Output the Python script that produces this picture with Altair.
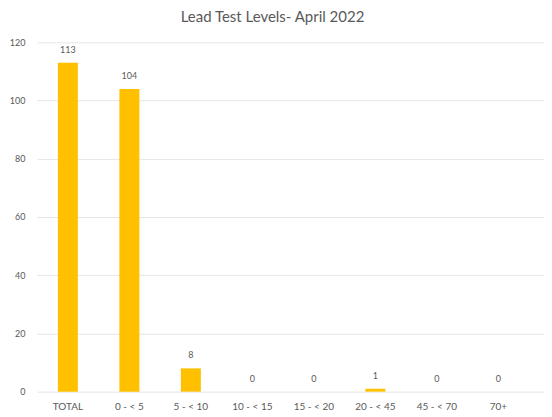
import altair as alt
import pandas as pd

categories = ["TOTAL", "0 - < 5", "5 - < 10", "10 - < 15", "15 - < 20", "20 - < 45", "45 - < 70", "70+"]
counts = [113, 104, 8, 0, 0, 1, 0, 0]
y_ticks = [0, 20, 40, 60, 80, 100, 120]

df = pd.DataFrame({"level": categories, "count": counts})

FONT = "Lato"
GRAY = "#595959"

x = alt.X(
    "level:N",
    sort=categories,
    title=None,
    scale=alt.Scale(paddingInner=0.675, paddingOuter=0.46, align=0.37),
    axis=alt.Axis(labelAngle=0, ticks=False, domain=False, labelPadding=10,
                  labelFontSize=10, labelColor=GRAY, labelFont=FONT),
)
y = alt.Y(
    "count:Q",
    title=None,
    scale=alt.Scale(domain=[0, 120], nice=False),
    axis=alt.Axis(values=y_ticks, ticks=False, domain=False, tickSize=0, labelPadding=12,
                  labelFontSize=9, labelColor=GRAY, labelFont=FONT,
                  gridColor="#e6e6e6", gridWidth=1),
)

bars = alt.Chart(df).mark_bar(color="#FFC000").encode(x=x, y=y)
labels = alt.Chart(df).mark_text(baseline="bottom", dy=-8, fontSize=9, color=GRAY, font=FONT).encode(
    x=alt.X("level:N", sort=categories),
    y="count:Q",
    text="count:Q",
)

chart = (
    alt.layer(bars, labels)
    .properties(
        width=508,
        height=350,
        autosize=alt.AutoSizeParams(type="none"),
        padding={"left": 29, "top": 34, "right": 0, "bottom": 22},
        title=alt.TitleParams("Lead Test Levels- April 2022", fontSize=15, font=FONT,
                              fontWeight="normal", color=GRAY, offset=13, dx=-18),
    )
    .configure_view(stroke=None)
)

chart.save("out.html", embed_options={"renderer": "svg", "actions": False})
